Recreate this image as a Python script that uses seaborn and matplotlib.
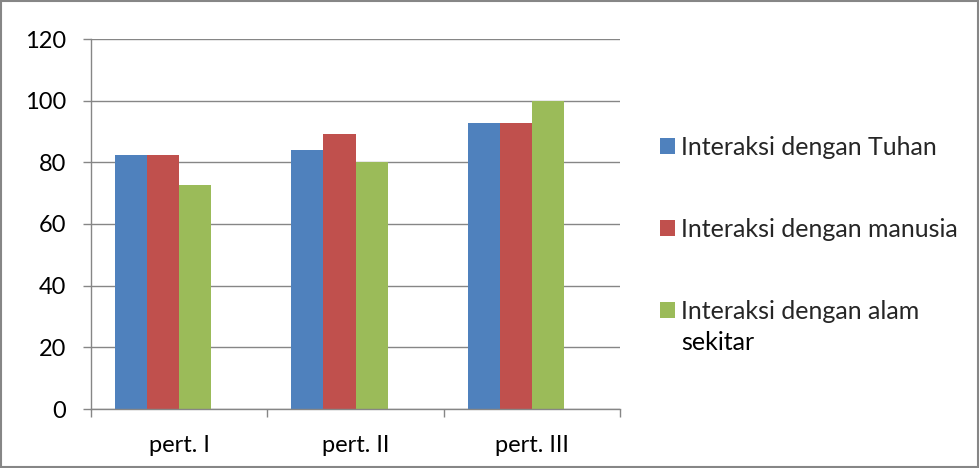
import matplotlib
matplotlib.use("Agg")
import matplotlib.pyplot as plt
from matplotlib.patches import Patch, Rectangle
from matplotlib.ticker import FixedLocator
import seaborn as sns
import pandas as pd

categories = ["pert. I", "pert. II", "pert. III"]
series_names = ["Interaksi dengan Tuhan", "Interaksi dengan manusia",
                "Interaksi dengan alam"]
last_label_tail = "sekitar"
tuhan = [82.4, 84.0, 92.9]
manusia = [82.4, 89.3, 92.9]
alam = [72.5, 80.0, 100.0]
colors = ["#4F81BD", "#C0504D", "#9BBB59"]
y_ticks = [0, 20, 40, 60, 80, 100, 120]

# an empty fourth slot keeps the bar groups left of each category centre
spare_slot = " "

rows = []
for name, vals in zip(series_names, [tuhan, manusia, alam]):
    for cat, v in zip(categories, vals):
        rows.append({"kategori": cat, "seri": name, "nilai": v})
df = pd.DataFrame(rows)

sns.set_style("white")
plt.rcParams["font.family"] = ["Lato", "DejaVu Sans"]

fig = plt.figure(figsize=(9.8, 4.68), dpi=100)
ax = fig.add_axes([91 / 980, 59 / 468, 529 / 980, 370 / 468])

sns.barplot(data=df, x="kategori", y="nilai", hue="seri",
            hue_order=series_names + [spare_slot], order=categories,
            palette=colors + ["#FFFFFF"], saturation=1, width=0.727,
            linewidth=0, legend=False, ax=ax)

grid_c = "#868686"
ax.set_ylim(0, 120)
ax.set_xlim(-0.5, 2.5)
ax.set_yticks(y_ticks)
ax.yaxis.grid(True, color=grid_c, linewidth=1.0)
ax.xaxis.grid(False)
ax.set_axisbelow(True)
ax.set_xlabel("")
ax.set_ylabel("")

for side in ["top", "right"]:
    ax.spines[side].set_visible(False)
for side in ["left", "bottom"]:
    ax.spines[side].set_visible(True)
    ax.spines[side].set_color(grid_c)
    ax.spines[side].set_linewidth(1.0)

ax.tick_params(axis="y", which="major", length=6, width=1.0, color=grid_c,
               direction="out", left=True, pad=12, labelsize=17,
               labelcolor="#000000")
ax.tick_params(axis="x", which="major", length=0, pad=19, labelsize=17,
               labelcolor="#000000")
ax.xaxis.set_minor_locator(FixedLocator([-0.5, 0.5, 1.5, 2.5]))
ax.tick_params(axis="x", which="minor", length=6, width=1.0, color=grid_c,
               direction="out", bottom=True)

handles = [Patch(facecolor=c, edgecolor="none") for c in colors]
leg = ax.legend(handles, series_names, loc="upper left",
                bbox_to_anchor=(660 / 980, 1 - 136 / 468),
                bbox_transform=fig.transFigure, frameon=False,
                fontsize=18, handlelength=0.6, handleheight=0.6,
                handletextpad=0.25, labelspacing=2.35,
                borderaxespad=0, borderpad=0)

# wrapped second line of the last legend entry
fig.canvas.draw()
last_text = leg.get_texts()[-1]
bb = last_text.get_window_extent()
x0, y0 = fig.transFigure.inverted().transform((bb.x0, bb.y0))
fig.text(x0, y0 - 31 / 468, last_label_tail, fontsize=18,
         ha="left", va="bottom", color="#000000")

fig.add_artist(Rectangle((0.001, 0.002), 0.997, 0.995,
                         transform=fig.transFigure, fill=False,
                         edgecolor=grid_c, linewidth=1.5))

fig.savefig("out.png", dpi=100)
